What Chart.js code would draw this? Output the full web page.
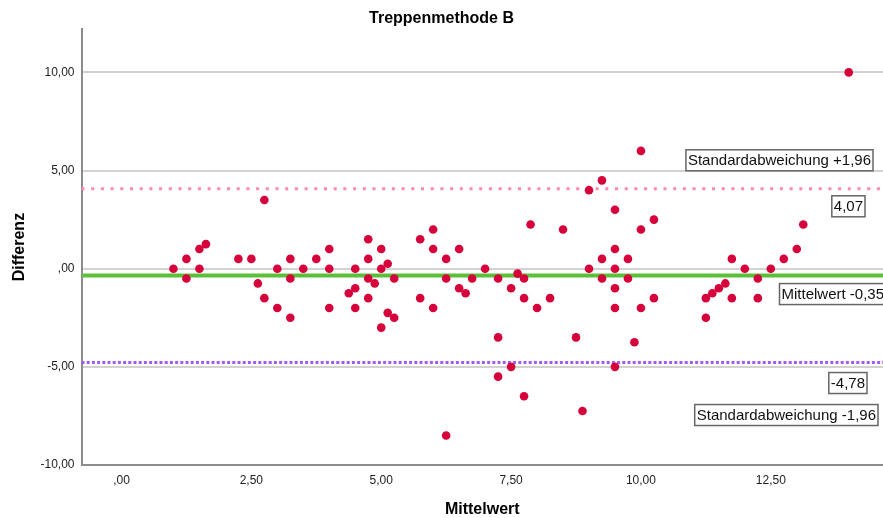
<!DOCTYPE html>
<html>
<head>
<meta charset="utf-8">
<script src="https://cdn.jsdelivr.net/npm/chart.js@4"></script>
<style>
body { margin: 0; background: #fff; }
#wrap { width: 883px; height: 518px; }
</style>
</head>
<body>
<div id="wrap"><canvas id="chart" width="883" height="518"></canvas></div>
<script>
// Mittelwert (x) and Differenz (y) for each case
const mittelwert = [
    1, 1.25, 1.25, 1.5, 1.5, 1.625, 2.25, 2.5, 2.75, 2.625,
    2.75, 3, 3, 3.25, 3.25, 3.25, 3.5, 3.75, 4, 4,
    4, 4.375, 4.5, 4.5, 4.5, 4.75, 4.75, 4.75, 4.75, 4.875,
    5, 5, 5.125, 5.25, 5.125, 5.25, 5, 5.75, 6, 6,
    6.25, 6.5, 6.25, 6.5, 6.625, 6.75, 7, 5.75, 6, 6.25,
    7.25, 7.25, 7.25, 7.5, 7.5, 7.625, 7.75, 7.75, 7.75, 7.875,
    8, 8.25, 8.5, 8.75, 8.875, 9, 9, 9.25, 9.25, 9.25,
    9.5, 9.5, 9.5, 9.5, 9.5, 9.5, 9.75, 9.75, 9.875, 10,
    10, 10, 10.25, 10.25, 11.25, 11.25, 11.375, 11.5, 11.625, 11.75,
    11.75, 12, 12.25, 12.25, 12.5, 12.75, 13, 13.125, 14
];
const differenz = [
    0, 0.5, -0.5, 1, 0, 1.25, 0.5, 0.5, 3.5, -0.75,
    -1.5, 0, -2, 0.5, -0.5, -2.5, 0, 0.5, 1, 0,
    -2, -1.25, 0, -1, -2, 1.5, 0.5, -0.5, -1.5, -0.75,
    1, 0, 0.25, -0.5, -2.25, -2.5, -3, 1.5, 2, 1,
    0.5, 1, -0.5, -1, -1.25, -0.5, 0, -1.5, -2, -8.5,
    -0.5, -3.5, -5.5, -1, -5, -0.25, -0.5, -1.5, -6.5, 2.25,
    -2, -1.5, 2, -3.5, -7.25, 4, 0, 4.5, 0.5, -0.5,
    3, 1, 0, -1, -2, -5, 0.5, -0.5, -3.75, 6,
    2, -2, 2.5, -1.5, -1.5, -2.5, -1.25, -1, -0.75, 0.5,
    -1.5, 0, -0.5, -1.5, 0, 0.5, 1, 2.25, 10
];

const meanDiff = -0.35;
const upperLimit = 4.07;
const lowerLimit = -4.78;

const xRange = [-0.77, 14.66];
const yRange = [-10, 12.2];
const xTicks = [0, 2.5, 5, 7.5, 10, 12.5];
const yTicks = [-10, -5, 0, 5, 10];

const refLabels = ['Standardabweichung +1,96', '4,07', 'Mittelwert -0,35', '-4,78', 'Standardabweichung -1,96'];

const FONT = 'Liberation Sans, Arial, sans-serif';

// SPSS style: 0 -> ",00", 2.5 -> "2,50"
function formatDe(v) {
    let s = Math.abs(v).toFixed(2).replace('.', ',');
    if (s.startsWith('0,')) s = s.substring(1);
    return (v < 0 ? '-' : '') + s;
}

function hLine(y, color, width, dash) {
    return {
        type: 'line',
        data: [{x: xRange[0], y: y}, {x: xRange[1], y: y}],
        borderColor: color,
        borderWidth: width,
        borderDash: dash,
        pointRadius: 0,
        fill: false
    };
}

// boxed labels beside the reference lines
const labelBoxes = {
    id: 'labelBoxes',
    afterDatasetsDraw(chart) {
        const {ctx, chartArea, scales} = chart;
        const y = scales.y;
        const r = chartArea.right;
        const boxes = [
            {text: refLabels[0], y: y.getPixelForValue(upperLimit) - 39, right: r - 10},
            {text: refLabels[1], y: y.getPixelForValue(upperLimit) + 7, right: r - 18},
            {text: refLabels[2], y: y.getPixelForValue(meanDiff) + 8, left: chartArea.left + 698},
            {text: refLabels[3], y: y.getPixelForValue(lowerLimit) + 10, right: r - 16},
            {text: refLabels[4], y: y.getPixelForValue(lowerLimit) + 42, right: r - 5}
        ];
        ctx.save();
        ctx.font = '15px ' + FONT;
        ctx.textBaseline = 'middle';
        ctx.textAlign = 'left';
        boxes.forEach(b => {
            const w = ctx.measureText(b.text).width + 4;
            const h = 21;
            const x0 = b.left !== undefined ? b.left : b.right - w;
            ctx.fillStyle = '#fff';
            ctx.fillRect(x0, b.y, w, h);
            ctx.strokeStyle = '#666';
            ctx.lineWidth = 1.5;
            ctx.strokeRect(x0, b.y, w, h);
            ctx.fillStyle = '#111';
            ctx.fillText(b.text, x0 + 2, b.y + h / 2 + 1);
        });
        ctx.restore();
    }
};

new Chart(document.getElementById('chart'), {
    type: 'scatter',
    data: {
        datasets: [
            {
                data: mittelwert.map((m, i) => ({x: m, y: differenz[i]})),
                backgroundColor: '#d6003a',
                borderColor: '#d6003a',
                pointRadius: 4.3,
                borderWidth: 0
            },
            hLine(meanDiff, '#5cbf3c', 4, []),
            hLine(upperLimit, '#ff86ac', 3, [3, 6.7]),
            hLine(lowerLimit, '#a55cf5', 3, [3, 2.2])
        ]
    },
    options: {
        responsive: false,
        animation: false,
        layout: { padding: 0, autoPadding: false },
        plugins: {
            legend: { display: false },
            tooltip: { enabled: false },
            title: {
                display: true,
                text: 'Treppenmethode B',
                color: '#000',
                font: { family: FONT, size: 16, weight: 'bold' },
                padding: { top: 9, bottom: 1 }
            }
        },
        scales: {
            x: {
                type: 'linear',
                min: xRange[0],
                max: xRange[1],
                afterBuildTicks: s => { s.ticks = xTicks.map(v => ({value: v})); },
                afterFit: s => { s.height = 53; },
                grid: { display: false, drawTicks: false },
                border: { display: true, color: '#8c8c8c', width: 2 },
                ticks: {
                    padding: 8,
                    color: '#222',
                    font: { family: FONT, size: 12 },
                    callback: v => formatDe(v)
                },
                title: {
                    display: true,
                    text: 'Mittelwert',
                    color: '#000',
                    font: { family: FONT, size: 16, weight: 'bold' },
                    padding: { top: 0, bottom: -1 }
                }
            },
            y: {
                type: 'linear',
                min: yRange[0],
                max: yRange[1],
                afterBuildTicks: s => { s.ticks = yTicks.map(v => ({value: v})); },
                afterFit: s => { s.width = 81.5; },
                grid: { color: '#d2d2d2', lineWidth: 2, drawTicks: false },
                border: { display: true, color: '#8c8c8c', width: 2 },
                ticks: {
                    padding: 7,
                    color: '#222',
                    font: { family: FONT, size: 12 },
                    callback: v => formatDe(v)
                },
                title: {
                    display: true,
                    text: 'Differenz',
                    color: '#000',
                    font: { family: FONT, size: 16, weight: 'bold' },
                    padding: { top: 10, bottom: 0 }
                }
            }
        }
    },
    plugins: [labelBoxes]
});
</script>
</body>
</html>
